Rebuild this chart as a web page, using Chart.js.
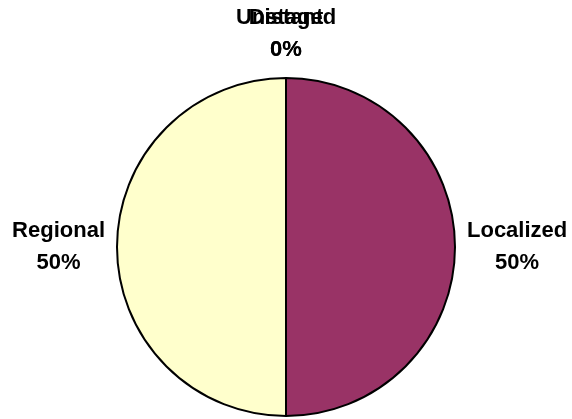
<!DOCTYPE html>
<html>
<head>
<meta charset="utf-8">
<script src="https://cdn.jsdelivr.net/npm/chart.js@4"></script>
<style>
  html, body { margin: 0; padding: 0; background: #fff; }
  #wrap { width: 572px; height: 419px; }
</style>
</head>
<body>
<div id="wrap"><canvas id="stageChart"></canvas></div>
<script>
// slices, clockwise from 12 o'clock
const stages = ["Localized", "Regional", "Unstaged", "Distant"];
const shares = [50, 50, 0, 0];
const sliceColors = ["#993366", "#FFFFCC", "#FFFFFF", "#CCFFFF"];

// labels outside the pie: name on one line, percent below
const outsideLabels = {
  id: "outsideLabels",
  afterDatasetsDraw(chart) {
    const ctx = chart.ctx;
    const arcs = chart.getDatasetMeta(0).data;
    const total = shares.reduce((a, b) => a + b, 0);
    ctx.save();
    ctx.font = "bold 22px 'Liberation Sans', Arial, sans-serif";
    ctx.fillStyle = "#000";
    ctx.textAlign = "center";
    ctx.textBaseline = "middle";
    const lineH = 32;
    arcs.forEach((arc, i) => {
      const { x, y, startAngle, endAngle, outerRadius } = arc.getProps(
        ["x", "y", "startAngle", "endAngle", "outerRadius"], true
      );
      const mid = (startAngle + endAngle) / 2;
      const pct = Math.round((shares[i] / total) * 100) + "%";
      const w = Math.max(ctx.measureText(stages[i]).width, ctx.measureText(pct).width);
      const h = lineH * 2;
      const gap = 12;
      const cx = x + Math.cos(mid) * (outerRadius + gap + w / 2 * Math.abs(Math.cos(mid)));
      const cy = y + Math.sin(mid) * (outerRadius + gap + h / 2 * Math.abs(Math.sin(mid)));
      ctx.fillText(stages[i], cx, cy - lineH / 2);
      ctx.fillText(pct, cx, cy + lineH / 2);
    });
    ctx.restore();
  }
};

new Chart(document.getElementById("stageChart"), {
  type: "pie",
  data: {
    labels: stages,
    datasets: [{
      data: shares,
      backgroundColor: sliceColors,
      borderColor: "#000",
      borderWidth: 2
    }]
  },
  options: {
    responsive: true,
    maintainAspectRatio: false,
    animation: false,
    layout: { padding: { top: 77, bottom: 2, left: 0, right: 0 } },
    plugins: {
      legend: { display: false },
      tooltip: { enabled: false }
    }
  },
  plugins: [outsideLabels]
});
</script>
</body>
</html>
